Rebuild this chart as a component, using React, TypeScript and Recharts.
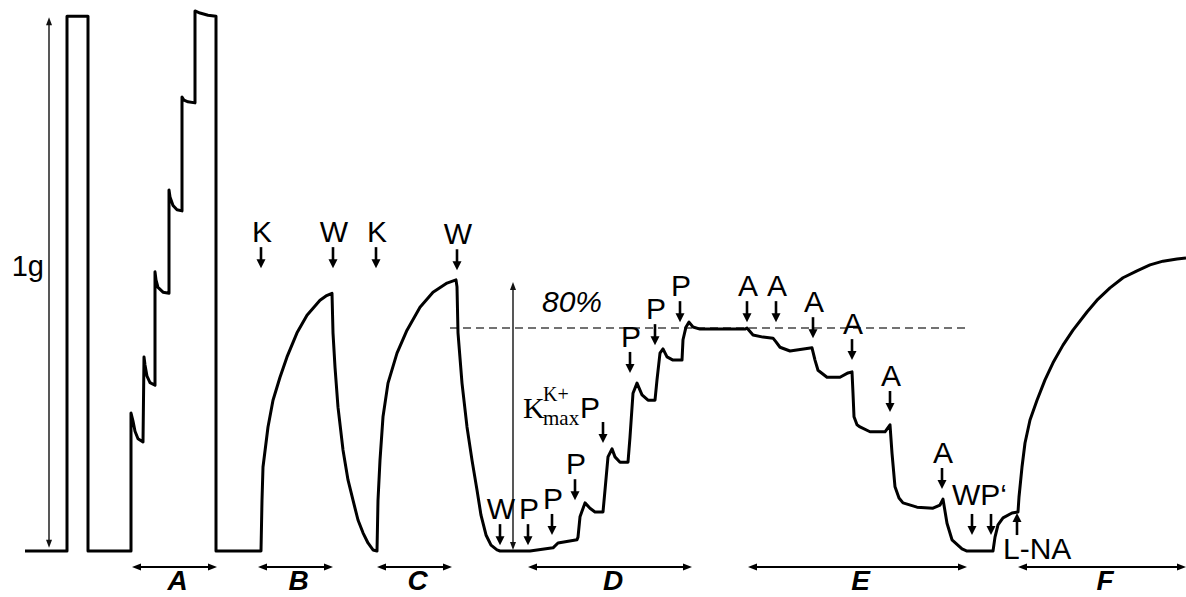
import { ComposedChart, Line, Scatter, XAxis, YAxis, ReferenceLine, ReferenceDot } from 'recharts';

type Pt = [number, number];

// isometric myograph record: t = time along the record, mg = tension above baseline
const calibration: Pt[] = [
  [25, 0], [67, 0], [67, 1000], [88, 1000], [88, 0], [131, 0],
  [131, 258], [133, 243], [135, 224], [138, 210], [143, 204],
  [144, 363], [145, 348], [147, 327], [150, 315], [155, 310],
  [155, 522], [156, 507], [158, 493], [163, 484], [169, 482],
  [169, 675], [170, 662], [173, 646], [177, 638], [182, 636],
  [182, 849], [184, 843], [188, 840], [195, 838],
  [195, 1010], [200, 1006], [208, 1002], [216, 1000], [216, 0], [261, 0],
];

const kclFirst: Pt[] = [
  [261, 0], [262, 95], [263, 157], [268, 232], [273, 282], [280, 325], [287, 363],
  [297, 408], [307, 441], [320, 469], [326, 477], [332, 482],
  [333, 408], [335, 344], [338, 269], [343, 189], [348, 133], [353, 95],
  [358, 58], [363, 34], [368, 15], [373, 2], [377, 0],
];

const kclSecond: Pt[] = [
  [377, 0], [378, 95], [380, 170], [383, 251], [388, 314], [397, 370], [407, 413],
  [420, 456], [433, 484], [447, 501], [456, 507],
  [457, 494], [458, 408], [462, 314], [467, 232], [472, 170], [477, 114],
  [481, 67], [486, 30], [491, 11], [497, 2], [500, 0],
];

const pheCumulative: Pt[] = [
  [500, 0], [530, 0], [553, 6], [558, 15], [577, 21], [578, 26], [580, 64], [585, 90],
  [590, 80], [595, 73], [603, 73], [605, 114], [608, 176], [612, 191], [615, 176],
  [620, 166], [628, 166], [630, 213], [633, 295], [637, 314], [642, 292], [648, 282],
  [655, 282], [657, 320], [660, 370], [663, 378], [667, 363], [673, 357], [682, 357],
  [683, 395], [686, 419], [689, 428], [693, 419], [700, 415], [745, 415],
];

const achCumulative: Pt[] = [
  [745, 415], [747, 417], [753, 404], [763, 400], [773, 398], [776, 391], [780, 381],
  [790, 374], [812, 380], [815, 357], [818, 338], [827, 325], [840, 325], [848, 333],
  [852, 335], [853, 295], [854, 251], [857, 236], [860, 232], [870, 223], [885, 223],
  [890, 236], [892, 183], [895, 120], [899, 99], [903, 90], [917, 82], [933, 80],
  [940, 86], [943, 97], [947, 52], [952, 21], [962, 4], [967, 0], [993, 0],
];

const lnaContraction: Pt[] = [
  [993, 0], [995, 26], [998, 49], [1003, 62], [1012, 71], [1018, 73], [1019, 101],
  [1022, 157], [1025, 202], [1030, 245], [1037, 282], [1045, 320], [1053, 352],
  [1063, 385], [1073, 413], [1087, 447], [1097, 469], [1110, 492], [1123, 511],
  [1137, 524], [1150, 535], [1163, 542], [1177, 546], [1186, 548],
];

const trace = [
  ...calibration, ...kclFirst, ...kclSecond, ...pheCumulative, ...achCumulative, ...lnaContraction,
].map(([t, mg]) => ({ t, mg }));

// drug additions / washouts (arrow tip position)
const additions = [
  { t: 261, at: 529, label: 'K' },
  { t: 333, at: 529, label: 'W' },
  { t: 376, at: 529, label: 'K' },
  { t: 457, at: 525, label: 'W' },
  { t: 500, at: 11, label: 'W' },
  { t: 528, at: 11, label: 'P' },
  { t: 552, at: 30, label: 'P' },
  { t: 575, at: 95, label: 'P' },
  { t: 603, at: 202, label: '' },
  { t: 630, at: 333, label: 'P' },
  { t: 655, at: 385, label: 'P' },
  { t: 680, at: 428, label: 'P' },
  { t: 747, at: 428, label: 'A' },
  { t: 776, at: 428, label: 'A' },
  { t: 813, at: 398, label: 'A' },
  { t: 852, at: 357, label: 'A' },
  { t: 890, at: 260, label: 'A' },
  { t: 942, at: 116, label: 'A' },
  { t: 972, at: 30, label: '' },
  { t: 991, at: 30, label: '' },
];
const lnaAddition = [{ t: 1017, at: 71, label: 'L-NA' }];

const phases = [
  { from: 132, to: 217, name: 'A' },
  { from: 258, to: 333, name: 'B' },
  { from: 377, to: 452, name: 'C' },
  { from: 528, to: 692, name: 'D' },
  { from: 748, to: 967, name: 'E' },
  { from: 1018, to: 1186, name: 'F' },
];

const oneGram = { t: 49, from: 6, to: 998 };
const kMax = { t: 513, from: 2, to: 503 };
const eightyPct = { from: 450, to: 970, level: 417 };

const SANS = '"Liberation Sans", Arial, sans-serif';
const SERIF = '"Liberation Serif", "Times New Roman", serif';

function DownArrow({ cx, cy, payload }: any) {
  return (
    <g>
      <line x1={cx} y1={cy - 21} x2={cx} y2={cy - 6} stroke="#000" strokeWidth={2.6} />
      <polygon points={`${cx - 4.5},${cy - 9} ${cx + 4.5},${cy - 9} ${cx},${cy}`} fill="#000" />
      {payload?.label ? (
        <text x={cx + 1} y={cy - 26} textAnchor="middle" fontFamily={SANS} fontSize={30} fill="#000">
          {payload.label}
        </text>
      ) : null}
    </g>
  );
}

function UpArrow({ cx, cy, payload }: any) {
  return (
    <g>
      <line x1={cx} y1={cy + 22} x2={cx} y2={cy + 6} stroke="#000" strokeWidth={2.6} />
      <polygon points={`${cx - 4.5},${cy + 9} ${cx + 4.5},${cy + 9} ${cx},${cy}`} fill="#000" />
      <text x={cx - 14} y={cy + 46} fontFamily={SANS} fontSize={30} fill="#000">{payload?.label}</text>
    </g>
  );
}

const bracket = (name: string) => (p: any) => {
  const { x1, y1, x2 } = p;
  return (
    <g>
      <line x1={x1 + 6} y1={y1} x2={x2 - 6} y2={y1} stroke="#000" strokeWidth={2} />
      <polygon points={`${x1},${y1} ${x1 + 9},${y1 - 3.5} ${x1 + 9},${y1 + 3.5}`} fill="#000" />
      <polygon points={`${x2},${y1} ${x2 - 9},${y1 - 3.5} ${x2 - 9},${y1 + 3.5}`} fill="#000" />
      <text x={(x1 + x2) / 2 + 3} y={y1 + 23} textAnchor="middle" fontFamily={SANS}
        fontWeight="bold" fontStyle="italic" fontSize={28} fill="#000">{name}</text>
    </g>
  );
};

const scaleBar = (label?: string) => (p: any) => {
  const { x1, y1, y2 } = p;
  const top = Math.min(y1, y2);
  const bottom = Math.max(y1, y2);
  return (
    <g>
      <line x1={x1} y1={top + 5} x2={x1} y2={bottom - 5} stroke="#111" strokeWidth={1.4} />
      <polygon points={`${x1},${top} ${x1 - 3},${top + 8} ${x1 + 3},${top + 8}`} fill="#111" />
      <polygon points={`${x1},${bottom} ${x1 - 3},${bottom - 8} ${x1 + 3},${bottom - 8}`} fill="#111" />
      {label ? (
        <text x={x1 - 5} y={(top + bottom) / 2 - 7} textAnchor="end" fontFamily={SANS} fontSize={29} fill="#000">
          {label}
        </text>
      ) : null}
    </g>
  );
};

function KmaxLabel({ cx, cy }: any) {
  return (
    <g fill="#000">
      <text x={cx} y={cy} fontFamily={SERIF} fontSize={30}>K</text>
      <text x={cx + 20} y={cy - 17} fontFamily={SERIF} fontSize={20}>K+</text>
      <text x={cx + 20} y={cy + 7} fontFamily={SERIF} fontSize={21}>max</text>
      <text x={cx + 57} y={cy} fontFamily={SANS} fontSize={30}>P</text>
    </g>
  );
}

const textNote = (text: string, extra: any = {}) => ({ cx, cy }: any) => (
  <text x={cx} y={cy} fontFamily={SANS} fontSize={30} fill="#000" {...extra}>{text}</text>
);

export default function App() {
  return (
    <div style={{ position: 'absolute', left: 0, top: 0, width: 1186, height: 597, background: '#fff' }}>
      <ComposedChart width={1186} height={597} margin={{ top: 0, right: 0, bottom: 0, left: 0 }}>
        <XAxis type="number" dataKey="t" domain={[0, 1186]} allowDataOverflow hide />
        <YAxis type="number" domain={[-86, 1030.4]} allowDataOverflow hide />

        <ReferenceLine
          segment={[{ x: eightyPct.from, y: eightyPct.level }, { x: eightyPct.to, y: eightyPct.level }]}
          stroke="#444" strokeWidth={1.5} strokeDasharray="8 5"
        />
        <ReferenceLine
          segment={[{ x: oneGram.t, y: oneGram.to }, { x: oneGram.t, y: oneGram.from }]}
          shape={scaleBar('1g')}
        />
        <ReferenceLine
          segment={[{ x: kMax.t, y: kMax.to }, { x: kMax.t, y: kMax.from }]}
          shape={scaleBar()}
        />
        {phases.map(ph => (
          <ReferenceLine
            key={ph.name}
            segment={[{ x: ph.from, y: -30 }, { x: ph.to, y: -30 }]}
            shape={bracket(ph.name)}
          />
        ))}

        <Line
          data={trace} dataKey="mg" type="linear" stroke="#000" strokeWidth={3}
          strokeLinejoin="round" dot={false} activeDot={false} isAnimationActive={false}
        />
        <Scatter data={additions} dataKey="at" shape={DownArrow} isAnimationActive={false} />
        <Scatter data={lnaAddition} dataKey="at" shape={UpArrow} isAnimationActive={false} />

        <ReferenceDot x={572} y={447} shape={textNote('80%', { textAnchor: 'middle', fontStyle: 'italic' })} />
        <ReferenceDot x={523} y={249} shape={KmaxLabel} />
        <ReferenceDot x={952} y={86} shape={textNote('WP\u2018')} />
      </ComposedChart>
    </div>
  );
}
